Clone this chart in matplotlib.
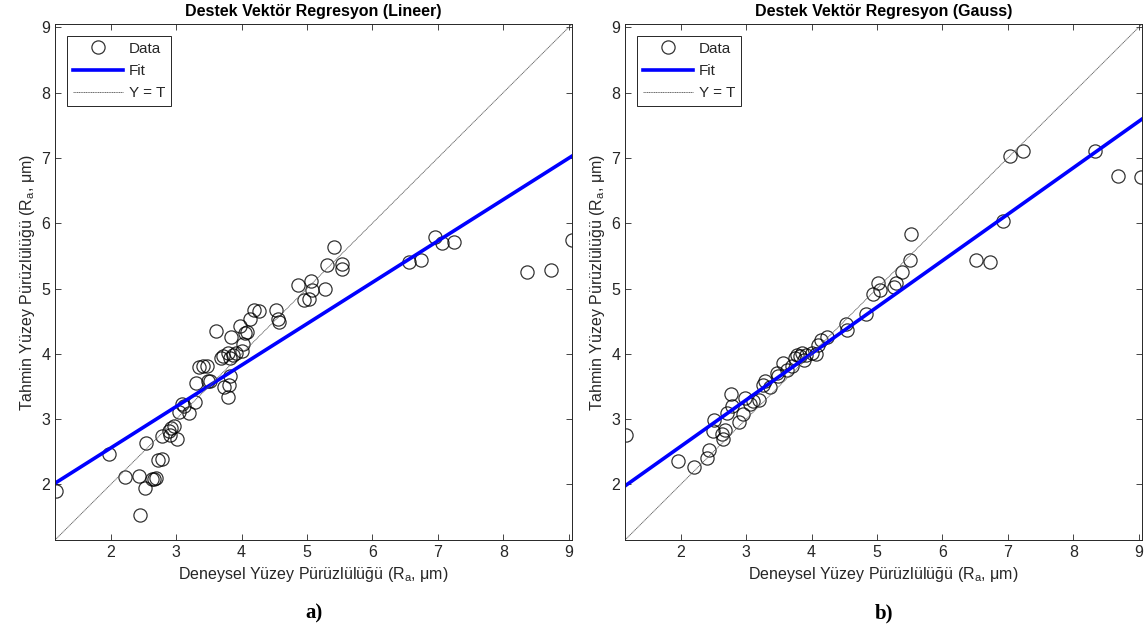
import numpy as np
import matplotlib
matplotlib.use('Agg')
import matplotlib.pyplot as plt

plt.rcParams['font.family'] = ['Liberation Sans', 'DejaVu Sans']
plt.rcParams['mathtext.fontset'] = 'custom'
plt.rcParams['mathtext.rm'] = 'Liberation Sans'

lin_exp = [1.16, 1.98, 2.22, 2.44, 2.45, 2.52, 2.54, 2.63, 2.66, 2.69, 2.73, 2.79,
           2.79, 2.89, 2.91, 2.93, 2.97, 3.01, 3.04, 3.09, 3.12, 3.19, 3.29, 3.31,
           3.35, 3.41, 3.47, 3.49, 3.52, 3.61, 3.68, 3.72, 3.74, 3.80, 3.81, 3.82,
           3.80, 3.84, 3.83, 3.87, 3.92, 4.00, 4.03, 3.97, 4.05, 4.08, 4.13, 4.19,
           4.27, 4.53, 4.56, 4.57, 4.86, 4.96, 5.03, 5.06, 5.07, 5.27, 5.31, 5.41,
           5.53, 5.54, 6.56, 6.75, 6.95, 7.07, 7.25, 8.36, 8.73, 9.05]
lin_pred = [1.90, 2.46, 2.12, 2.13, 1.54, 1.94, 2.64, 2.09, 2.09, 2.10, 2.38, 2.39,
            2.74, 2.82, 2.75, 2.86, 2.90, 2.69, 3.11, 3.23, 3.20, 3.10, 3.26, 3.56,
            3.80, 3.81, 3.81, 3.59, 3.58, 4.35, 3.94, 3.96, 3.50, 3.34, 3.53, 3.66,
            4.01, 4.26, 3.94, 3.99, 4.01, 4.04, 4.15, 4.43, 4.32, 4.34, 4.53, 4.67,
            4.65, 4.67, 4.54, 4.49, 5.06, 4.83, 4.84, 5.11, 4.98, 4.99, 5.36, 5.64,
            5.38, 5.30, 5.41, 5.44, 5.79, 5.69, 5.71, 5.25, 5.28, 5.74]

gau_exp = [1.16, 1.96, 2.21, 2.41, 2.43, 2.51, 2.50, 2.63, 2.65, 2.68, 2.71, 2.77,
           2.78, 2.89, 2.96, 2.98, 3.06, 3.11, 3.20, 3.26, 3.29, 3.36, 3.47, 3.49,
           3.57, 3.62, 3.70, 3.75, 3.78, 3.82, 3.85, 3.88, 3.92, 4.00, 4.07, 4.10,
           4.15, 4.24, 4.53, 4.54, 4.84, 4.94, 5.01, 5.04, 5.26, 5.29, 5.39, 5.50,
           5.52, 6.52, 6.72, 6.92, 7.04, 7.23, 8.33, 8.69, 9.03]
gau_pred = [2.76, 2.36, 2.26, 2.41, 2.53, 2.99, 2.82, 2.77, 2.69, 2.84, 3.10, 3.38,
            3.20, 2.95, 3.08, 3.33, 3.23, 3.28, 3.29, 3.53, 3.58, 3.50, 3.71, 3.66,
            3.86, 3.76, 3.81, 3.93, 3.98, 3.96, 4.01, 3.91, 3.98, 4.02, 4.00, 4.14,
            4.21, 4.26, 4.45, 4.36, 4.61, 4.92, 5.08, 4.98, 5.02, 5.08, 5.26, 5.44,
            5.83, 5.44, 5.41, 6.03, 7.03, 7.11, 7.11, 6.73, 6.70]

# fit lines (slope, intercept)
lin_fit = (0.634, 1.29)
gau_fit = (0.711, 1.16)

lims = (1.15, 9.05)
ticks = [2, 3, 4, 5, 6, 7, 8, 9]
titles = ['Destek Vektör Regresyon (Lineer)', 'Destek Vektör Regresyon (Gauss)']
panel_labels = ['a)', 'b)']
xlabel = 'Deneysel Yüzey Pürüzlülüğü (R$_{\\mathregular{a}}$, μm)'
ylabel = 'Tahmin Yüzey Pürüzlülüğü (R$_{\\mathregular{a}}$, μm)'

txt = '#262626'
fig = plt.figure(figsize=(11.48, 6.33), dpi=100)
positions = [[55 / 1148, 93 / 633, 517 / 1148, 516 / 633],
             [625 / 1148, 93 / 633, 517 / 1148, 516 / 633]]
datasets = [(lin_exp, lin_pred, lin_fit), (gau_exp, gau_pred, gau_fit)]

for i, (xe, yp, fit) in enumerate(datasets):
    ax = fig.add_axes(positions[i])
    ax.plot(xe, yp, 'o', ms=9.5, mfc='none', mec=(0, 0, 0, 0.8), mew=0.9, label='Data')
    xx = np.array(lims)
    ax.plot(xx, fit[0] * xx + fit[1], color='#0000ff', lw=2.6, label='Fit')
    ax.plot(xx, xx, color='0.35', lw=0.6, ls=(0, (1.5, 0.6)), label='Y = T')
    ax.set_xlim(lims)
    ax.set_ylim(lims)
    ax.set_xticks(ticks)
    ax.set_yticks(ticks)
    ax.tick_params(direction='in', top=True, right=True, labelsize=11.5,
                   colors=txt, length=4, width=0.6)
    for s in ax.spines.values():
        s.set_color('#262626')
        s.set_linewidth(0.7)
    ax.set_title(titles[i], fontsize=11.5, fontweight='bold', color='black', pad=6)
    ax.set_xlabel(xlabel, fontsize=11.5, color=txt, labelpad=4)
    ax.set_ylabel(ylabel, fontsize=11.5, color=txt, labelpad=3)
    leg = ax.legend(loc='upper left', fontsize=11, fancybox=False, edgecolor='#262626',
                    framealpha=1, borderaxespad=0.8, handlelength=3.3,
                    handletextpad=0.4, labelspacing=0.55, borderpad=0.35)
    leg.get_frame().set_linewidth(0.7)
    for t in leg.get_texts():
        t.set_color(txt)
    fig.text(positions[i][0] + positions[i][2] / 2, 20 / 633, panel_labels[i],
             ha='center', va='center', fontsize=15, fontweight='bold',
             family='Liberation Serif')

fig.savefig('out.png', dpi=100)
